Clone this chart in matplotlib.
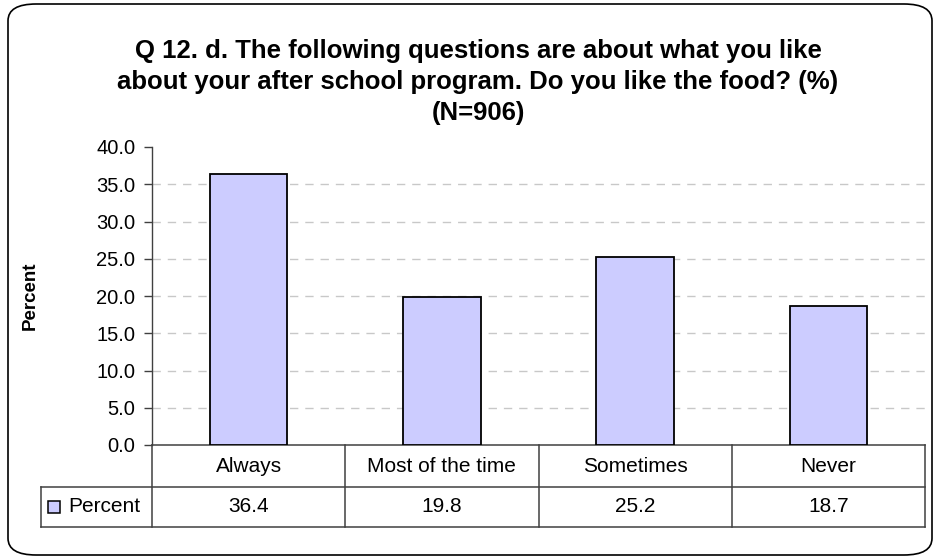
import matplotlib.pyplot as plt
from matplotlib.patches import FancyBboxPatch, Rectangle
from matplotlib.lines import Line2D

categories = ['Always', 'Most of the time', 'Sometimes', 'Never']
percent = [36.4, 19.8, 25.2, 18.7]
series_name = 'Percent'
title = ('Q 12. d. The following questions are about what you like\n'
         'about your after school program. Do you like the food? (%)\n'
         '(N=906)')

plt.rcParams['font.family'] = ['Liberation Sans', 'DejaVu Sans']

W, H = 938, 558
fig = plt.figure(figsize=(W / 100, H / 100), dpi=100)

# plot area in pixels
left, right, top, bottom = 152, 925, 147, 445
ax = fig.add_axes([left / W, 1 - bottom / H, (right - left) / W, (bottom - top) / H])

bar_color = '#CCCCFF'
x = range(len(categories))
ax.bar(x, percent, width=0.40, color=bar_color, edgecolor='black', linewidth=1.3, zorder=3)

ax.set_xlim(-0.5, len(categories) - 0.5)
ax.set_ylim(0, 40)
ax.set_yticks([i * 5 for i in range(9)])
ax.set_yticklabels([f'{i * 5:.1f}' for i in range(9)], fontsize=14.5)
ax.tick_params(axis='y', length=6, width=1, color='#404040', pad=6)
ax.set_xticks([])

for v in range(5, 40, 5):
    ax.axhline(v, color='#C8C8C8', linestyle=(0, (6, 5)), linewidth=1, zorder=1)

for s in ['top', 'right', 'bottom']:
    ax.spines[s].set_visible(False)
ax.spines['left'].set_color('#404040')
ax.spines['left'].set_linewidth(1)

ax.set_ylabel('Percent', fontsize=13.5, fontweight='bold', labelpad=0)
ax.yaxis.set_label_coords(-(left - 39) / (right - left), 0.5)

# data table below the axes
tr = ax.get_xaxis_transform()
ph = bottom - top
r0 = 0
r1 = -42 / ph
r2 = -82 / ph
col_w = (right - left) / len(categories)
leg_x = -0.5 - (left - 41) / col_w
n = len(categories)
lc = '#404040'

def hline(x0, x1, y):
    ax.add_line(Line2D([x0, x1], [y, y], transform=tr, color=lc, lw=1.1, clip_on=False))

def vline(xv, y0, y1):
    ax.add_line(Line2D([xv, xv], [y0, y1], transform=tr, color=lc, lw=1.1, clip_on=False))

hline(-0.5, n - 0.5, r0)
hline(leg_x, n - 0.5, r1)
hline(leg_x, n - 0.5, r2)
for i in range(n + 1):
    vline(i - 0.5, r0, r2)
vline(leg_x, r1, r2)

for i, (c, v) in enumerate(zip(categories, percent)):
    ax.text(i, (r0 + r1) / 2, c, transform=tr, ha='center', va='center', fontsize=15)
    ax.text(i, (r1 + r2) / 2, f'{v:.1f}', transform=tr, ha='center', va='center', fontsize=15)

# legend key in the table
ax.add_patch(Rectangle((leg_x + 7 / col_w, (r1 + r2) / 2 - 6 / ph), 12 / col_w, 12 / ph,
                       transform=tr, facecolor=bar_color, edgecolor='black', lw=1.1, clip_on=False))
ax.text(leg_x + 27 / col_w, (r1 + r2) / 2, series_name, transform=tr, ha='left', va='center', fontsize=15)

fig.text(478 / W, 1 - 82 / H, title, ha='center', va='center', fontsize=18.5,
         fontweight='bold', linespacing=1.38)

# rounded outer border
border = FancyBboxPatch((8 / W, 1 - 555 / H), 924 / W, 551 / H,
                        boxstyle='round,pad=0,rounding_size=0.03',
                        transform=fig.transFigure, facecolor='none', edgecolor='black', lw=1.2)
fig.add_artist(border)

fig.savefig('out.png', dpi=100)
